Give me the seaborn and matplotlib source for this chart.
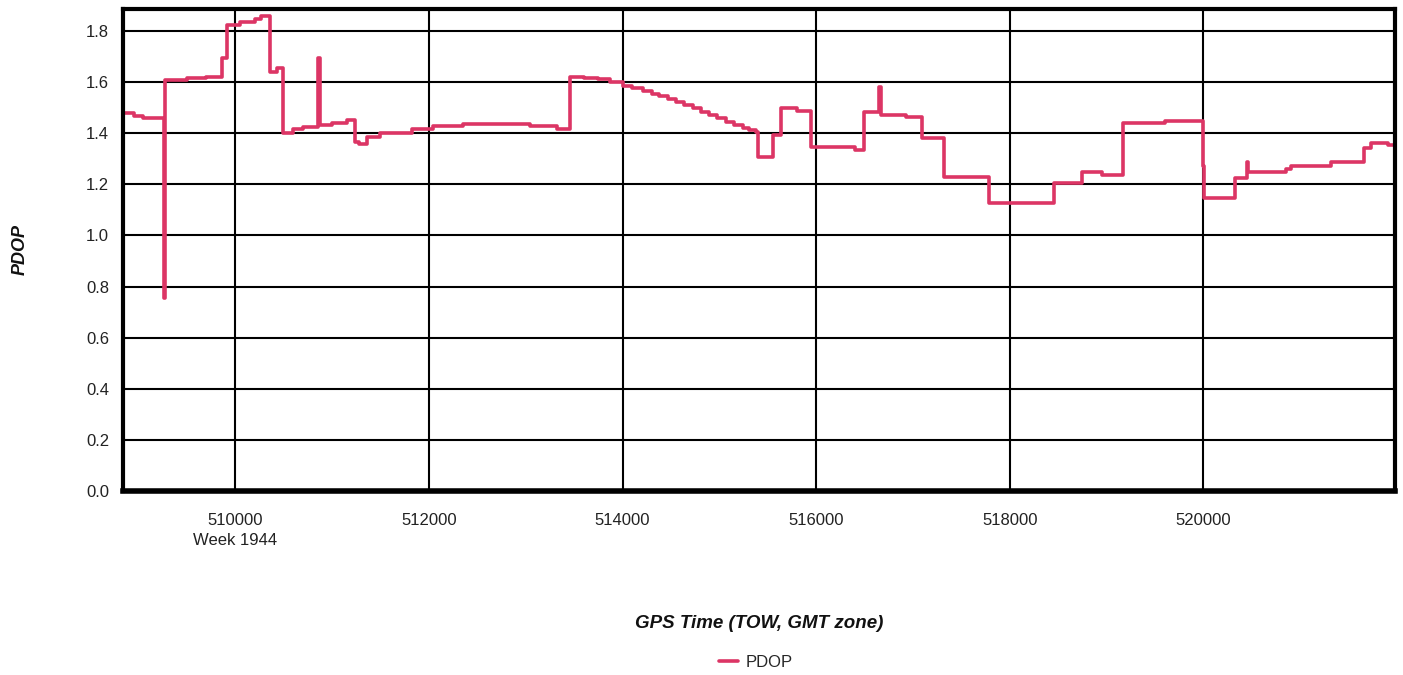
import numpy as np
import pandas as pd
import matplotlib
matplotlib.use("Agg")
import matplotlib.pyplot as plt
import seaborn as sns

# GPS time of week (s) where the PDOP value changes, and the value from there on
tow = [508840, 508950, 509050, 509261, 509275, 509500, 509700, 509860, 509915,
       510050, 510200, 510270, 510354, 510430, 510491, 510600, 510700, 510855,
       510870, 511000, 511150, 511237, 511280, 511360, 511495, 511825, 512041,
       512350, 513041, 513320, 513461, 513600, 513750, 513870, 514003, 514100,
       514210, 514300, 514381, 514470, 514553, 514640, 514725, 514810, 514897,
       514980, 515069, 515150, 515240, 515310, 515378, 515395, 515550, 515636,
       515800, 515945, 516400, 516495, 516649, 516665, 516924, 517089, 517320,
       517784, 518454, 518746, 518950, 519175, 519600, 520000, 520012, 520330,
       520450, 520465, 520859, 520910, 521320, 521660, 521730, 521907, 521980]
pdop = [1.478, 1.467, 1.458, 0.756, 1.608, 1.615, 1.620, 1.693, 1.823,
        1.835, 1.845, 1.858, 1.640, 1.656, 1.402, 1.415, 1.425, 1.695,
        1.432, 1.440, 1.450, 1.367, 1.358, 1.384, 1.399, 1.415, 1.428,
        1.436, 1.428, 1.415, 1.621, 1.617, 1.612, 1.599, 1.586, 1.576,
        1.565, 1.555, 1.545, 1.533, 1.521, 1.509, 1.497, 1.484, 1.471,
        1.458, 1.445, 1.433, 1.421, 1.413, 1.406, 1.305, 1.393, 1.497,
        1.487, 1.347, 1.335, 1.484, 1.582, 1.473, 1.464, 1.380, 1.230,
        1.128, 1.204, 1.249, 1.236, 1.441, 1.447, 1.270, 1.145, 1.223,
        1.288, 1.249, 1.260, 1.271, 1.288, 1.341, 1.360, 1.355, 1.355]

x_ticks = [510000, 512000, 514000, 516000, 518000, 520000]
y_ticks = [0.0, 0.2, 0.4, 0.6, 0.8, 1.0, 1.2, 1.4, 1.6, 1.8]

df = pd.DataFrame({"TOW": tow, "PDOP": pdop})

sns.set_style("white")
plt.rcParams["font.family"] = ["Liberation Sans", "DejaVu Sans"]

fig = plt.figure(figsize=(14.03, 6.75), dpi=100)
ax = fig.add_axes([0.0877, 0.2726, 0.9066, 0.7141])

sns.lineplot(data=df, x="TOW", y="PDOP", ax=ax, color="#DC3565",
             linewidth=2.6, drawstyle="steps-post", estimator=None,
             label="PDOP", legend=False)

ax.set_xlim(508840, 521980)
ax.set_ylim(0, 1.886)
ax.set_xticks(x_ticks)
ax.set_xticklabels([str(t) for t in x_ticks])
ax.set_yticks(y_ticks)
ax.set_yticklabels([f"{v:.1f}" for v in y_ticks])
ax.grid(True, color="black", linewidth=1.5)
ax.set_axisbelow(True)

for side in ["left", "right", "top"]:
    ax.spines[side].set_linewidth(3)
    ax.spines[side].set_color("black")
ax.spines["bottom"].set_linewidth(4)
ax.spines["bottom"].set_color("black")

ax.tick_params(axis="both", direction="out", length=5, width=1.5,
               color="black", labelsize=12, labelcolor="#222222", pad=5)
ax.tick_params(axis="x", pad=10.5)

ax.annotate("Week 1944", xy=(510000, 0), xycoords=("data", "axes fraction"),
            xytext=(0, -30), textcoords="offset points", ha="center",
            va="top", fontsize=12, color="#222222")

ax.set_xlabel("GPS Time (TOW, GMT zone)", fontsize=13.5, fontweight="bold",
              fontstyle="italic", color="#111111", labelpad=63)
ax.set_ylabel("PDOP", fontsize=13, fontweight="bold", fontstyle="italic",
              color="#111111", labelpad=41)

handles, labels = ax.get_legend_handles_labels()
fig.legend(handles, labels, loc="center", bbox_to_anchor=(0.539, 0.019),
           frameon=False, fontsize=12, handlelength=1.1, handletextpad=0.5)

fig.savefig("out.png", dpi=100)
